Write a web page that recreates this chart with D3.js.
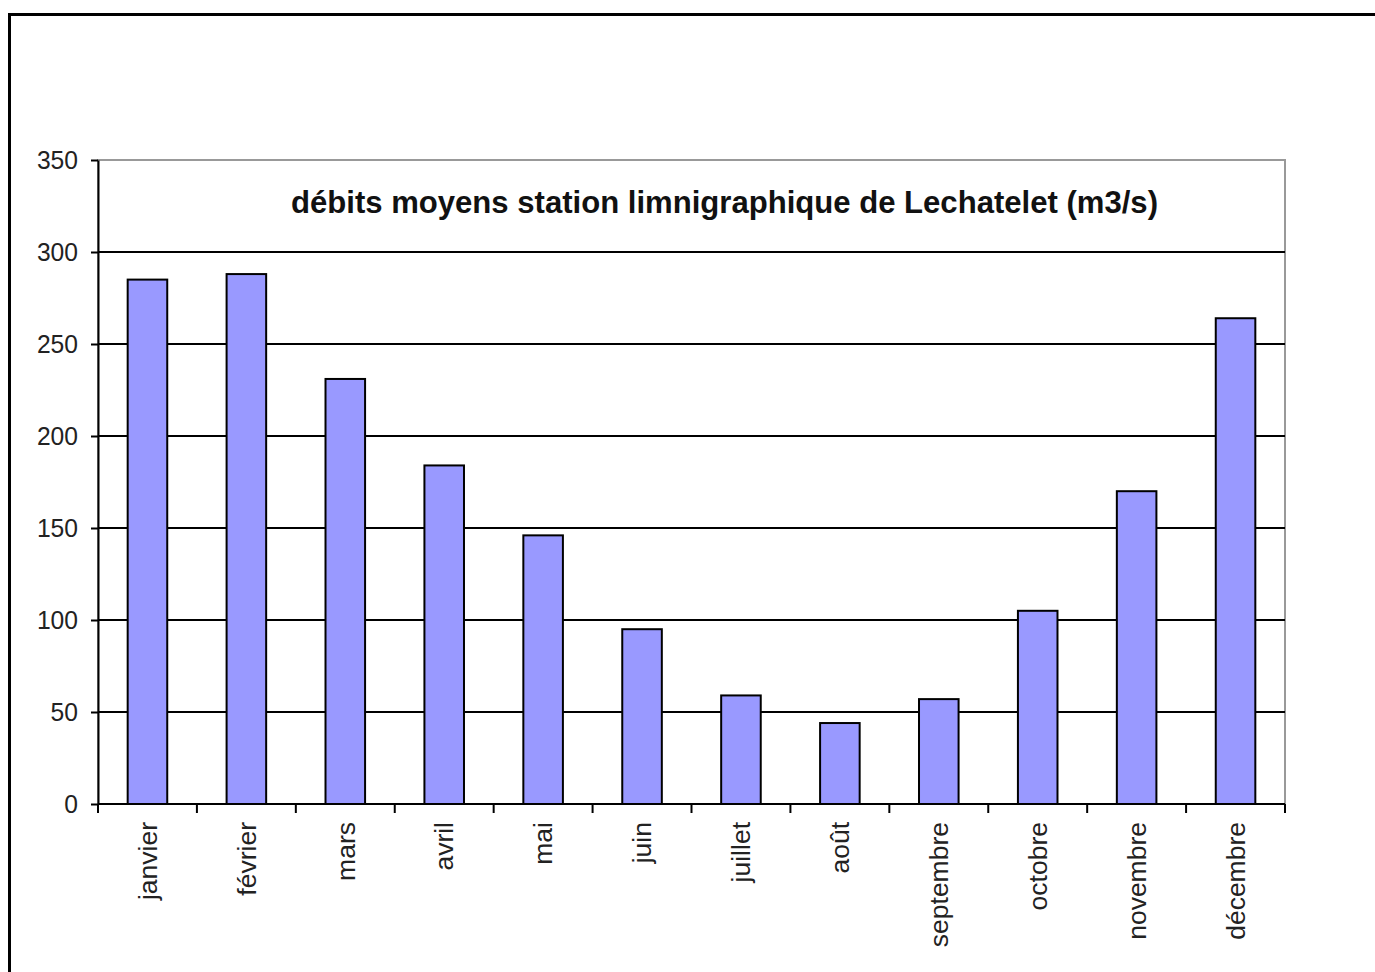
<!DOCTYPE html>
<html>
<head>
<meta charset="utf-8">
<script src="https://cdn.jsdelivr.net/npm/d3@7"></script>
<style>
  body { margin: 0; background: #fff; }
  svg { display: block; font-family: "Liberation Sans", Arial, sans-serif; }
</style>
</head>
<body>
<div id="chart"></div>
<script>
const months = ["janvier", "février", "mars", "avril", "mai", "juin", "juillet", "août", "septembre", "octobre", "novembre", "décembre"];
const debits = [285, 288, 231, 184, 146, 95, 59, 44, 57, 105, 170, 264];
const yTicks = [0, 50, 100, 150, 200, 250, 300, 350];
const title = "débits moyens station limnigraphique de Lechatelet (m3/s)";

const W = 1375, H = 972;
const margin = { top: 160, right: 90, bottom: 168, left: 98 },
    width = 1285 - margin.left,
    height = 804 - margin.top;

const svg = d3.select("#chart").append("svg")
    .attr("width", W)
    .attr("height", H);

// outer frame
svg.append("rect")
    .attr("x", 9.5).attr("y", 14.5)
    .attr("width", W + 20).attr("height", H + 20)
    .attr("fill", "none")
    .attr("stroke", "#000")
    .attr("stroke-width", 3);

const g = svg.append("g")
    .attr("transform", `translate(${margin.left},${margin.top})`);

const x = d3.scaleBand()
    .domain(months)
    .range([0, width])
    .paddingInner(0.6)
    .paddingOuter(0.3);

const y = d3.scaleLinear()
    .domain([0, 350])
    .range([height, 0]);

// plot border (grey top/right)
g.append("rect")
    .attr("x", 0).attr("y", 0)
    .attr("width", width).attr("height", height)
    .attr("fill", "none")
    .attr("stroke", "#999")
    .attr("stroke-width", 2);

// gridlines
g.append("g")
    .selectAll("line")
    .data(yTicks.filter(d => d > 0 && d < 350))
    .join("line")
    .attr("x1", 0).attr("x2", width)
    .attr("y1", d => y(d)).attr("y2", d => y(d))
    .attr("stroke", "#000")
    .attr("stroke-width", 2);

// bars
g.append("g")
    .selectAll("rect")
    .data(months)
    .join("rect")
    .attr("x", d => x(d))
    .attr("y", (d, i) => y(debits[i]))
    .attr("width", x.bandwidth())
    .attr("height", (d, i) => height - y(debits[i]))
    .attr("fill", "#9999ff")
    .attr("stroke", "#000")
    .attr("stroke-width", 2);

// y axis
const yAxis = d3.axisLeft(y).tickValues(yTicks).tickSize(7).tickPadding(13).tickSizeOuter(0);
g.append("g")
    .call(yAxis)
    .call(a => a.select(".domain").attr("stroke-width", 2))
    .call(a => a.selectAll(".tick line").attr("stroke-width", 2))
    .call(a => a.selectAll(".tick text")
        .attr("font-size", 25)
        .attr("font-family", "Liberation Sans, Arial, sans-serif")
        .attr("textLength", d => String(d).length * 13.7)
        .attr("lengthAdjust", "spacingAndGlyphs")
        .attr("fill", "#222"));

// x axis: ticks at band boundaries
const step = x.step();
const bounds = d3.range(months.length + 1).map(i => x(months[0]) - step * x.paddingOuter() + i * step);
const xa = g.append("g").attr("transform", `translate(0,${height})`);
xa.append("line")
    .attr("x1", 0).attr("x2", width)
    .attr("stroke", "#000").attr("stroke-width", 2);
xa.selectAll(".xt")
    .data(bounds)
    .join("line")
    .attr("class", "xt")
    .attr("x1", d => d).attr("x2", d => d)
    .attr("y1", 0).attr("y2", 9)
    .attr("stroke", "#000").attr("stroke-width", 2);
xa.selectAll(".xl")
    .data(months)
    .join("text")
    .attr("class", "xl")
    .attr("transform", d => `translate(${x(d) + x.bandwidth() / 2},18) rotate(-90)`)
    .attr("text-anchor", "end")
    .attr("dy", "0.35em")
    .attr("font-size", 26.5)
    .attr("fill", "#222")
    .text(d => d);

// title
g.append("text")
    .attr("x", (291 + 1158) / 2 - margin.left)
    .attr("y", 213 - margin.top)
    .attr("text-anchor", "middle")
    .attr("font-size", 32)
    .attr("font-weight", "bold")
    .attr("textLength", 867)
    .attr("lengthAdjust", "spacingAndGlyphs")
    .attr("fill", "#111")
    .text(title);
</script>
</body>
</html>
